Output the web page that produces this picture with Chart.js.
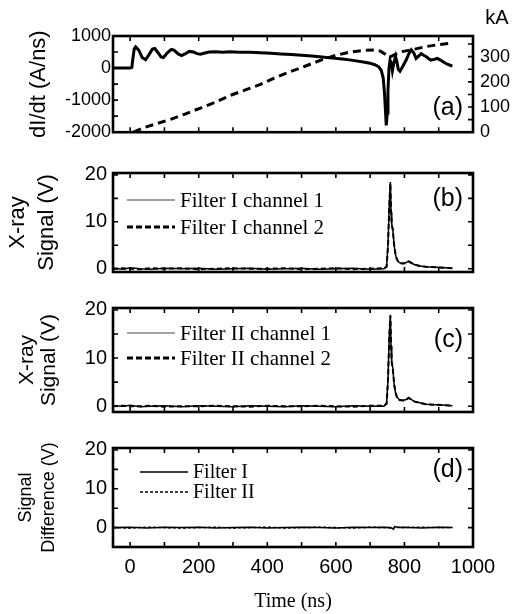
<!DOCTYPE html>
<html lang="en">
<head>
<meta charset="UTF-8">
<title>Current derivative and X-ray signals</title>
<script src="https://cdn.jsdelivr.net/npm/chart.js"></script>
<style>
  body { margin: 0; background: #fff; }
  #wrap { position: relative; width: 514px; height: 614px; }
  .panel { position: absolute; left: 0; width: 514px; }
</style>
</head>
<body>
<div id="wrap">
  <div class="panel" style="top:0;height:150px"><canvas id="chartA"></canvas></div>
  <div class="panel" style="top:150px;height:140px"><canvas id="chartB"></canvas></div>
  <div class="panel" style="top:290px;height:140px"><canvas id="chartC"></canvas></div>
  <div class="panel" style="top:430px;height:184px"><canvas id="chartD"></canvas></div>
</div>
<script>
// ---- data (time in ns) ----
const timeA = [-50, -20, 0, 5, 8, 12, 16, 25, 35, 45, 55, 65, 72, 82, 90, 97, 108, 120, 128, 140, 150, 160, 172, 185, 195, 205, 215, 230, 250, 270, 290, 320, 350, 380, 410, 440, 470, 500, 530, 560, 590, 620, 650, 680, 700, 715, 725, 732, 738, 742, 745, 747, 750, 752, 755, 758, 762, 765, 769, 774, 778, 782, 787, 795, 805, 813, 820, 827, 834, 842, 849, 856, 863, 870, 877, 886, 896, 905, 915, 925, 935, 940];
const dIdt = [0, 0, 0, 20, 300, 600, 660, 560, 330, 260, 420, 590, 610, 470, 350, 330, 470, 580, 560, 440, 390, 440, 520, 500, 450, 430, 460, 500, 505, 495, 505, 495, 490, 480, 460, 440, 420, 400, 375, 345, 310, 280, 240, 190, 150, 100, 40, -60, -300, -800, -1400, -1790, -1400, -700, 0, 250, 150, -80, 150, 360, 200, -40, -100, 50, 250, 450, 570, 480, 300, 380, 450, 400, 360, 300, 250, 270, 300, 250, 180, 120, 80, 60];
const timeI = [10, 40, 80, 120, 160, 205, 250, 292, 340, 380, 420, 466, 510, 560, 600, 640, 680, 713, 730, 742, 750, 760, 775, 794, 830, 863, 900, 935];
const currentKA = [0, 18, 35, 52, 72, 96, 120, 146, 170, 190, 215, 240, 262, 288, 305, 318, 325, 327, 322, 312, 302, 300, 310, 320, 330, 340, 348, 353];

const timeX = [-50, -20, 0, 30, 60, 100, 150, 200, 250, 300, 350, 400, 450, 500, 550, 600, 650, 700, 740, 748, 752, 756, 759, 761, 763, 766, 770, 774, 778, 785, 795, 805, 812, 818, 828, 845, 863, 890, 920, 940];
const filterICh1 = [0.1, -0.1, 0.2, 0, -0.1, 0.1, 0, 0.1, -0.1, 0, 0.1, -0.1, 0, 0.1, -0.1, 0, 0.1, -0.1, 0, 0.5, 5, 14, 18.5, 12, 9.5, 8.5, 5, 3, 2, 1.3, 1.1, 1.3, 1.6, 1.4, 0.9, 0.6, 0.4, 0.3, 0.2, 0.1];
const filterICh2 = [0, 0.1, 0, -0.1, 0.1, 0, 0.1, -0.1, 0, 0.1, 0, 0, 0.1, -0.1, 0, 0.1, -0.1, 0, 0.1, 0.4, 4.8, 13.6, 18.2, 12.2, 9.4, 8.3, 5.1, 3.1, 2, 1.2, 1.1, 1.2, 1.5, 1.3, 0.9, 0.6, 0.4, 0.3, 0.2, 0.1];
const filterIICh1 = [0.1, 0, 0.2, -0.1, 0, 0.1, -0.1, 0.1, 0, -0.1, 0.1, 0, -0.1, 0.1, 0, -0.1, 0.1, 0, 0, 0.6, 5.5, 15, 19, 12.5, 9, 8, 4.5, 2.8, 1.9, 1.4, 1.2, 1.4, 1.8, 1.5, 1, 0.7, 0.4, 0.3, 0.2, 0.1];
const filterIICh2 = [0, 0.1, 0, 0, 0.1, -0.1, 0, 0, 0.1, 0, -0.1, 0.1, 0, 0, 0.1, 0, -0.1, 0.1, 0.1, 0.5, 5.2, 14.6, 18.8, 12.7, 9.1, 7.9, 4.6, 2.9, 1.9, 1.3, 1.2, 1.3, 1.7, 1.5, 1, 0.7, 0.4, 0.3, 0.2, 0.1];

const timeD = [-50, 0, 50, 100, 150, 200, 250, 300, 350, 400, 450, 500, 550, 600, 650, 700, 740, 760, 768, 772, 780, 800, 850, 900, 940];
const diffI = [0, 0.1, -0.1, 0.1, 0, 0.1, -0.1, 0, 0.1, -0.1, 0, 0.1, 0, -0.1, 0.1, 0, 0.1, 0, -0.4, 0.3, 0, 0.1, -0.1, 0.1, 0];
const diffII = [0, -0.1, 0.1, 0, -0.1, 0, 0.1, -0.1, 0, 0.1, -0.1, 0, 0.1, 0, -0.1, 0.1, 0, -0.1, -0.3, 0.2, 0.1, 0, 0.1, 0, 0];

// axis ticks
const xTickLabels = [0, 200, 400, 600, 800, 1000];
const xTickMarks = [0, 100, 200, 300, 400, 500, 600, 700, 800, 900, 1000];
const yTickLabelsA = [1000, 0, -1000, -2000];
const yTickMarksA = [1000, 500, 0, -500, -1000, -1500, -2000];
const kaTickLabels = [0, 100, 200, 300];
const kaTickMarks = [0, 50, 100, 150, 200, 250, 300, 350];
const sigTickLabels = [0, 10, 20];
const sigTickMarks = [0, 5, 10, 15, 20];
const diffTickMarks = [-5, 0, 5, 10, 15, 20];

const legendB = ['Filter I channel 1', 'Filter I channel 2'];
const legendC = ['Filter II channel 1', 'Filter II channel 2'];
const legendD = ['Filter I', 'Filter II'];

const sans = '"Liberation Sans", Arial, sans-serif';
const serif = '"Liberation Serif", "Times New Roman", serif';

const pts = (xs, ys) => xs.map((x, i) => ({ x: x, y: ys[i] }));
const setTicks = values => scale => { scale.ticks = values.map(v => ({ value: v })); };
const plain = v => String(v);

// border, inward ticks, panel letter and in-plot legend
const framePlugin = {
  id: 'frame',
  afterDatasetsDraw(chart, args, o) {
    const { ctx, chartArea: a, scales } = chart;
    const t = 5;
    ctx.save();
    ctx.strokeStyle = '#000';
    ctx.lineWidth = 1.6;
    ctx.beginPath();
    xTickMarks.forEach(v => {
      const px = scales.x.getPixelForValue(v);
      ctx.moveTo(px, a.bottom); ctx.lineTo(px, a.bottom - t);
      ctx.moveTo(px, a.top); ctx.lineTo(px, a.top + t);
    });
    o.leftMarks.forEach(v => {
      const py = scales.y.getPixelForValue(v);
      ctx.moveTo(a.left, py); ctx.lineTo(a.left + t, py);
      if (!o.rightAxis) { ctx.moveTo(a.right, py); ctx.lineTo(a.right - t, py); }
    });
    if (o.rightAxis) {
      o.rightMarks.forEach(v => {
        const py = scales[o.rightAxis].getPixelForValue(v);
        ctx.moveTo(a.right, py); ctx.lineTo(a.right - t, py);
      });
    }
    ctx.stroke();
    ctx.lineWidth = 2.6;
    ctx.strokeRect(a.left, a.top, a.right - a.left, a.bottom - a.top);

    ctx.fillStyle = '#000';
    ctx.font = '25px ' + sans;
    ctx.textAlign = 'right';
    ctx.textBaseline = 'middle';
    ctx.fillText(o.label, a.right - 10, o.labelY);

    if (o.unit) {
      ctx.font = '20px ' + sans;
      ctx.textAlign = 'center';
      ctx.fillText(o.unit, 497, 18);
    }

    if (o.legend) {
      const L = o.legend;
      ctx.font = L.font;
      ctx.textAlign = 'left';
      L.items.forEach((text, i) => {
        const s = L.styles[i];
        ctx.beginPath();
        ctx.setLineDash(s.dash);
        ctx.lineWidth = s.width;
        ctx.strokeStyle = s.color;
        ctx.moveTo(L.x1, L.ys[i]); ctx.lineTo(L.x2, L.ys[i]);
        ctx.stroke();
        ctx.setLineDash([]);
        ctx.fillText(text, L.textX, L.ys[i] + 1);
      });
    }
    ctx.restore();
  }
};
Chart.register(framePlugin);

function xAxis(showLabels) {
  const ax = {
    type: 'linear', min: -50, max: 1000,
    grid: { display: false, drawTicks: false },
    border: { display: false }
  };
  if (!showLabels) {
    ax.display = false;
  } else {
    ax.afterBuildTicks = setTicks(xTickLabels);
    ax.afterFit = s => { s.height = 67; };
    ax.ticks = { padding: 8, color: '#000', callback: plain, font: { family: sans, size: 20 } };
    ax.title = { display: true, text: 'Time (ns)', color: '#000', padding: { top: 0, bottom: 0 },
                 font: { family: serif, size: 20, lineHeight: 1.2 } };
  }
  return ax;
}

function yAxis(min, max, labels, title, titleFont, titlePad, tickSize, tickPad) {
  return {
    type: 'linear', position: 'left', min: min, max: max,
    afterBuildTicks: setTicks(labels),
    afterFit: s => { s.width = 113; },
    grid: { display: false, drawTicks: false },
    border: { display: false },
    ticks: { padding: tickPad, color: '#000', callback: plain, font: { family: sans, size: tickSize } },
    title: { display: true, text: title, color: '#000', padding: { top: titlePad, bottom: 0 }, font: titleFont }
  };
}

const common = {
  responsive: true,
  maintainAspectRatio: false,
  animation: false,
  events: [],
  plugins: { legend: { display: false }, tooltip: { enabled: false } },
  elements: { point: { radius: 0 }, line: { tension: 0, borderCapStyle: 'butt' } }
};

// (a) dI/dt and current
new Chart(document.getElementById('chartA'), {
  type: 'line',
  data: {
    datasets: [
      { label: 'dI/dt', data: pts(timeA, dIdt), borderColor: '#000', borderWidth: 3, yAxisID: 'y' },
      { label: 'Current', data: pts(timeI, currentKA), borderColor: '#000', borderWidth: 3, borderDash: [8, 5], yAxisID: 'y1' }
    ]
  },
  options: Object.assign({}, common, {
    layout: { padding: { top: 36, bottom: 11, left: 0, right: 0 } },
    scales: {
      x: xAxis(false),
      y: yAxis(-2000, 1000, yTickLabelsA, 'dI/dt (A/ns)', { family: sans, size: 22, lineHeight: 1.2 }, 26, 18, 2),
      y1: {
        type: 'linear', position: 'right', min: 0, max: 382,
        afterBuildTicks: setTicks(kaTickLabels),
        afterFit: s => { s.width = 41; },
        grid: { display: false, drawTicks: false },
        border: { display: false },
        ticks: { padding: 7, color: '#000', callback: plain, font: { family: sans, size: 18 } }
      }
    },
    plugins: Object.assign({}, common.plugins, {
      frame: { label: '(a)', labelY: 108, unit: 'kA', leftMarks: yTickMarksA, rightAxis: 'y1', rightMarks: kaTickMarks }
    })
  })
});

function signalChart(id, ds, yMin, yMax, labels, marks, title, titleFont, titlePad, frame) {
  return new Chart(document.getElementById(id), {
    type: 'line',
    data: { datasets: ds },
    options: Object.assign({}, common, {
      layout: { padding: frame.pad },
      scales: {
        x: xAxis(frame.showX),
        y: yAxis(yMin, yMax, labels, title, titleFont, titlePad, 20, 6)
      },
      plugins: Object.assign({}, common.plugins, { frame: frame.opts })
    })
  });
}

// (b) Filter I
signalChart('chartB', [
  { label: legendB[0], data: pts(timeX, filterICh1), borderColor: '#000', borderWidth: 1.5 },
  { label: legendB[1], data: pts(timeX, filterICh2), borderColor: '#000', borderWidth: 2, borderDash: [5, 3] }
], -0.7, 20.4, sigTickLabels, sigTickMarks, ['X-ray', 'Signal (V)'],
  { family: sans, size: 22, lineHeight: 1.3 }, 4, {
  pad: { top: 23, bottom: 16, left: 0, right: 41 }, showX: false,
  opts: { label: '(b)', labelY: 49, leftMarks: sigTickMarks,
    legend: { items: legendB, x1: 127, x2: 175, textX: 180, ys: [50, 77], font: '21px ' + serif,
      styles: [{ dash: [], width: 1.2, color: '#444' }, { dash: [6, 3], width: 3, color: '#000' }] } }
});

// (c) Filter II
signalChart('chartC', [
  { label: legendC[0], data: pts(timeX, filterIICh1), borderColor: '#000', borderWidth: 1.5 },
  { label: legendC[1], data: pts(timeX, filterIICh2), borderColor: '#000', borderWidth: 2, borderDash: [5, 3] }
], -1.2, 20.4, sigTickLabels, sigTickMarks, ['X-ray', 'Signal (V)'],
  { family: sans, size: 21, lineHeight: 1.05 }, 16, {
  pad: { top: 18, bottom: 17, left: 0, right: 41 }, showX: false,
  opts: { label: '(c)', labelY: 50, leftMarks: sigTickMarks,
    legend: { items: legendC, x1: 127, x2: 175, textX: 180, ys: [43, 68], font: '21px ' + serif,
      styles: [{ dash: [], width: 1.2, color: '#444' }, { dash: [6, 3], width: 3, color: '#000' }] } }
});

// (d) difference
signalChart('chartD', [
  { label: legendD[0], data: pts(timeD, diffI), borderColor: '#000', borderWidth: 1.5 },
  { label: legendD[1], data: pts(timeD, diffII), borderColor: '#000', borderWidth: 1.5, borderDash: [3, 2] }
], -5, 20.5, sigTickLabels, diffTickMarks, ['Signal', 'Difference (V)'],
  { family: sans, size: 18, lineHeight: 1.25 }, 15, {
  pad: { top: 15, bottom: 0, left: 0, right: 41 }, showX: true,
  opts: { label: '(d)', labelY: 40, leftMarks: diffTickMarks,
    legend: { items: legendD, x1: 140, x2: 188, textX: 193, ys: [42, 62], font: '20px ' + serif,
      styles: [{ dash: [], width: 1.5, color: '#000' }, { dash: [3, 2], width: 1.5, color: '#000' }] } }
});
</script>
</body>
</html>
